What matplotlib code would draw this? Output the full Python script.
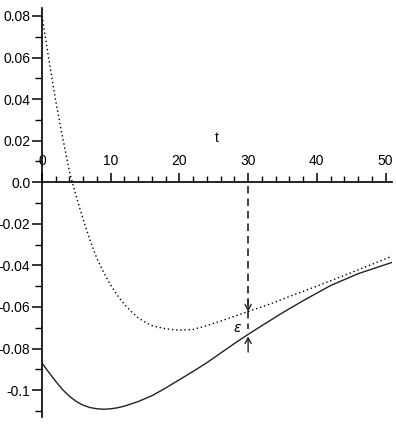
import numpy as np
import matplotlib
matplotlib.use('Agg')
import matplotlib.pyplot as plt

# values
t_dotted = [0, 1, 2, 3, 4, 5, 6, 7, 8, 9, 10, 11, 12, 13, 14, 15, 16, 18, 20,
            22, 24, 26, 28, 30, 33, 36, 40, 45, 51]
y_dotted = [0.0800, 0.0590, 0.0390, 0.0215, 0.0050, -0.0070, -0.0180, -0.0280,
            -0.0368, -0.0435, -0.0495, -0.0545, -0.0588, -0.0622, -0.0652,
            -0.0673, -0.0690, -0.0705, -0.0712, -0.0708, -0.0690, -0.0668,
            -0.0645, -0.0622, -0.0588, -0.0550, -0.0500, -0.0435, -0.0355]

t_solid = [0, 1, 2, 3, 4, 5, 6, 7, 8, 9, 10, 11, 12, 14, 16, 18, 20, 22, 24,
           26, 28, 30, 32, 35, 38, 42, 46, 51]
y_solid = [-0.0870, -0.0915, -0.0958, -0.0998, -0.1030, -0.1055, -0.1073,
           -0.1084, -0.1090, -0.1092, -0.1090, -0.1085, -0.1077, -0.1055,
           -0.1027, -0.0990, -0.0950, -0.0910, -0.0868, -0.0822, -0.0776,
           -0.0732, -0.0690, -0.0628, -0.0570, -0.0497, -0.0440, -0.0385]

x_ticks = [0, 10, 20, 30, 40, 50]
x_tick_labels = ['0', '10', '20', '30', '40', '50']
y_ticks = [-0.1, -0.08, -0.06, -0.04, -0.02, 0.0, 0.02, 0.04, 0.06, 0.08]
y_tick_labels = ['-0.1', '-0.08', '-0.06', '-0.04', '-0.02', '0.0',
                 '0.02', '0.04', '0.06', '0.08']

t_eps = 30

plt.rcParams['font.family'] = ['Liberation Sans', 'DejaVu Sans']

fig = plt.figure(figsize=(3.96, 4.28), dpi=100)
ax = fig.add_axes([0.1061, 0.0264, 0.8848, 0.9542])

ax.plot(t_dotted, y_dotted, color='black', lw=1.0, linestyle=(0, (1, 2)))
ax.plot(t_solid, y_solid, color='#222222', lw=1.0)

# error marker at t = 30
y_top = np.interp(t_eps, t_dotted, y_dotted)
y_bot = np.interp(t_eps, t_solid, y_solid)
ax.plot([t_eps, t_eps], [-0.002, y_top - 0.0085], color='#222222', lw=1.2,
        dashes=(4.5, 3))
ax.annotate('', xy=(t_eps, y_top), xytext=(t_eps, y_top + 0.006),
            arrowprops=dict(arrowstyle='->,head_length=0.4,head_width=0.22',
                            lw=1.0, color='#222222', shrinkA=0, shrinkB=0))
ax.annotate('', xy=(t_eps, y_bot - 0.001), xytext=(t_eps, y_bot - 0.0085),
            arrowprops=dict(arrowstyle='->,head_length=0.4,head_width=0.22',
                            lw=1.0, color='#222222', shrinkA=0, shrinkB=0))
ax.text(28.4, -0.0703, '\u03b5', fontsize=10, style='italic',
        ha='center', va='center', family='DejaVu Sans')
ax.text(25.4, 0.0213, 't', fontsize=10, ha='center', va='center')

ax.set_xlim(0, 51)
ax.set_ylim(-0.1128, 0.0837)

# maple style axes crossing at the origin
ax.spines['right'].set_visible(False)
ax.spines['bottom'].set_visible(False)
ax.spines['top'].set_position(('data', 0))
ax.spines['left'].set_position(('data', 0))
for s in ('top', 'left'):
    ax.spines[s].set_linewidth(1.2)

ax.xaxis.tick_top()
ax.set_xticks(x_ticks)
ax.set_xticklabels(x_tick_labels)
ax.set_xticks(np.arange(0, 51, 2), minor=True)
ax.set_yticks(y_ticks)
ax.set_yticklabels(y_tick_labels)
ax.set_yticks(np.arange(-0.11, 0.085, 0.01), minor=True)

ax.tick_params(axis='x', which='major', direction='out', length=6.5, width=1.1,
               pad=4, labelsize=10)
ax.tick_params(axis='x', which='minor', direction='out', length=4, width=1.0)
ax.tick_params(axis='y', which='major', direction='out', length=7.5, width=1.1,
               pad=0.8, labelsize=10)
ax.tick_params(axis='y', which='minor', direction='out', length=5, width=1.0)

fig.savefig('out.png', dpi=100)
